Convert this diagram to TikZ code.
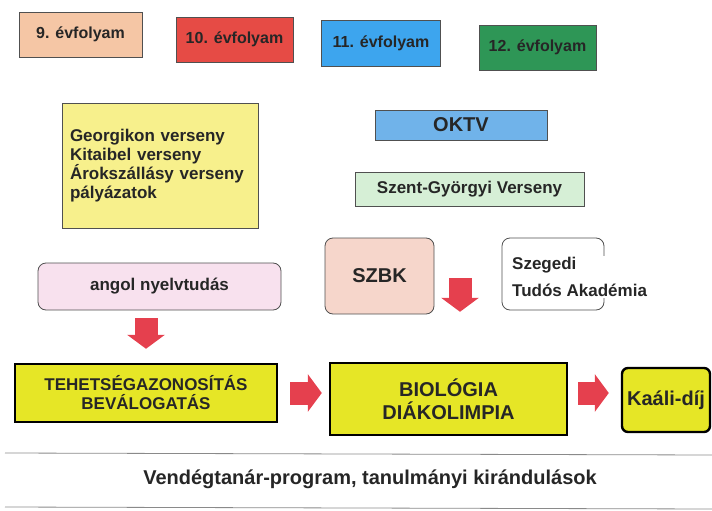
\documentclass[tikz,border=0pt]{standalone}
\usepackage{fontspec}
\setmainfont{Liberation Sans}
\usetikzlibrary{arrows.meta}

\definecolor{ink}{HTML}{262626}
\definecolor{boxline}{HTML}{505050}
\definecolor{peach}{HTML}{F5C6A5}
\definecolor{tenred}{HTML}{E64B45}
\definecolor{elevenblue}{HTML}{3DA5EE}
\definecolor{twelvegreen}{HTML}{2E9656}
\definecolor{paleyellow}{HTML}{F7F08C}
\definecolor{oktvblue}{HTML}{70B3EA}
\definecolor{szentgreen}{HTML}{D6EFD6}
\definecolor{angolpink}{HTML}{F8E1EE}
\definecolor{szbkpink}{HTML}{F6D6CB}
\definecolor{mainyellow}{HTML}{E6E626}
\definecolor{arrowred}{HTML}{E5404E}
\definecolor{rulegray}{HTML}{8A8A8A}

\begin{document}
\begin{tikzpicture}[x=1pt, y=-1pt,
    box/.style = {draw=boxline, line width=0.8pt, inner sep=0pt, align=center, text=ink},
    main/.style = {draw=black, line width=2.4pt, fill=mainyellow, inner sep=0pt, align=center, text=ink},
    fsmall/.style = {font=\fontsize{16}{19}\selectfont\bfseries},
    fmid/.style = {font=\fontsize{17}{19}\selectfont\bfseries},
    fbig/.style = {font=\fontsize{20}{23}\selectfont\bfseries},
    bigarrow/.style = {draw=arrowred, line width=23pt, -{Triangle[length=14pt, width=37pt]}}]
        \useasboundingbox (0,0) rectangle (712,511);

        \node[box, fsmall, fill=peach, minimum width=123pt, minimum height=45pt] (ev9) at (80.5,34.5) {9. évfolyam};
        \node[box, fsmall, fill=tenred, minimum width=117pt, minimum height=45pt] (ev10) at (234.5,39.5) {10. évfolyam};
        \node[box, fsmall, fill=elevenblue, minimum width=119pt, minimum height=46pt] (ev11) at (381,43) {11. évfolyam};
        \node[box, fsmall, fill=twelvegreen, minimum width=117pt, minimum height=45pt] (ev12) at (537.5,47.5) {12. évfolyam};

        \node[box, fmid, fill=paleyellow, minimum width=196pt, minimum height=125pt, text width=180pt, align=left] (verseny) at (160,165.5)
            {Georgikon verseny\\Kitaibel verseny\\Árokszállásy verseny\\pályázatok};
        \node[box, fbig, fill=oktvblue, minimum width=172pt, minimum height=30pt] (oktv) at (461,125) {OKTV};
        \node[box, fmid, fill=szentgreen, minimum width=229pt, minimum height=34pt] (szent) at (469.5,189) {Szent-Györgyi Verseny};

        \node[box, fmid, fill=angolpink, rounded corners=8pt, minimum width=243pt, minimum height=47pt] (angol) at (159.5,286.5) {angol nyelvtudás};
        \node[box, fbig, fill=szbkpink, rounded corners=8pt, minimum width=109pt, minimum height=76pt] (szbk) at (379.5,276) {SZBK};
        \node[box, fill=white, rounded corners=8pt, minimum width=102pt, minimum height=72pt] (szta) at (553,274) {};
        \node[font=\fontsize{17}{27}\selectfont\bfseries, text=ink, fill=white, inner sep=1pt, align=left, anchor=west] (sztatext) at (511,277)
            {Szegedi\\Tudós Akadémia};
        \coordinate (szbkarrow) at (460,278);

        \node[main, fmid, minimum width=262pt, minimum height=58pt] (tehet) at (146,393) {TEHETSÉGAZONOSÍTÁS\\BEVÁLOGATÁS};
        \node[main, fbig, minimum width=237pt, minimum height=72pt] (bio) at (448.5,399) {BIOLÓGIA\\DIÁKOLIMPIA};
        \node[main, fbig, rounded corners=6pt, minimum width=88pt, minimum height=64pt, inner sep=0pt] (kaali) at (666,400) {Kaáli-díj};

        \draw[bigarrow, shorten <=8pt, shorten >=14pt] (tehet.north |- angol.south) -- (tehet.north);
        \draw[bigarrow, shorten >=50pt] (szbkarrow) -- (szbkarrow |- bio.north);
        \draw[bigarrow, shorten <=12pt, shorten >=7pt] (tehet.east) -- (tehet.east -| bio.west);
        \draw[bigarrow, shorten <=10pt, shorten >=12pt] ([yshift=6pt]bio.east) -- ([yshift=6pt]bio.east -| kaali.west);

        \draw[rulegray, line width=0.8pt] (5,453) -- (712,455);
        \node[fbig, text=ink] (program) at (370,479) {Vendégtanár-program, tanulmányi kirándulások};
        \draw[rulegray, line width=0.8pt] (5,507) -- (712,509);
    \end{tikzpicture}
\end{document}
